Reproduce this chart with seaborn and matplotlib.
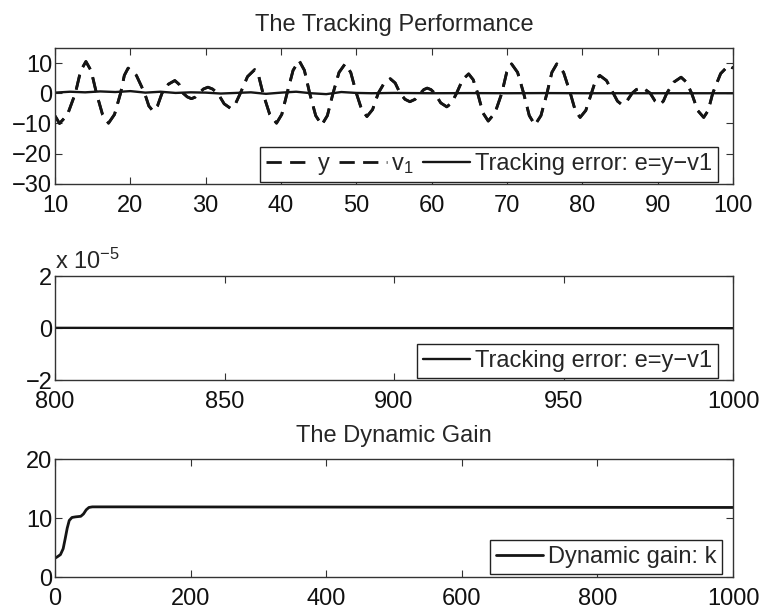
import matplotlib
matplotlib.use("Agg")
import matplotlib.pyplot as plt
import seaborn as sns
import numpy as np
import pandas as pd
from matplotlib.ticker import FuncFormatter

# ---------------- data ----------------
# top panel: output y (dashed), reference v1 (dashed) for t in [10, 100]
t_top = [10.0, 10.6, 11.65, 12.7, 13.4, 14.1, 14.8, 15.5, 16.3, 17.1, 17.9, 18.7,
         19.2, 19.7, 20.8, 21.9, 22.45, 23.0, 23.6, 24.2, 25.05, 25.9, 26.45, 27.0,
         27.55, 28.1, 28.6, 29.1, 29.7, 30.3, 30.9, 31.6, 32.45, 33.3, 33.95, 34.6,
         35.55, 36.5, 37.05, 37.6, 38.5, 39.4, 40.1, 40.8, 41.6, 42.4, 43.1, 43.8,
         44.6, 45.4, 46.15, 46.9, 47.7, 48.5, 49.25, 50.0, 50.7, 51.4, 52.15, 52.9,
         53.7, 54.5, 55.15, 55.8, 56.45, 57.1, 57.8, 58.5, 58.95, 59.4, 59.9, 60.4,
         61.2, 62.0, 62.65, 63.3, 64.1, 64.9, 65.5, 66.1, 66.8, 67.5, 68.4, 69.3,
         69.95, 70.6, 71.4, 72.2, 72.95, 73.7, 74.5, 75.3, 75.95, 76.6, 77.5, 78.4,
         79.05, 79.7, 80.45, 81.2, 81.75, 82.3, 83.2, 84.1, 84.65, 85.2, 85.9, 86.6,
         87.15, 87.7, 88.35, 89.0, 89.65, 90.3, 90.75, 91.2, 92.15, 93.1, 93.8, 94.5,
         95.3, 96.1, 96.7, 97.3, 98.35, 99.4, 100.0]
y_top = [-7.5, -10.0, -7.1, 0.0, 7.4, 10.5, 7.4, 0.0, -7.0, -9.9, -7.0, 0.0,
         5.9, 8.3, 5.9, 0.0, -4.2, -5.9, -4.2, 0.0, 3.0, 4.2, 3.0, 0.0,
         -1.2, -1.8, -1.3, 0.0, 1.4, 2.0, 1.4, 0.0, -3.5, -5.0, -3.5, 0.0,
         5.5, 7.8, 5.5, 0.0, -7.0, -9.9, -7.0, 0.0, 7.6, 10.8, 7.6, 0.0,
         -7.4, -10.5, -7.4, 0.0, 6.9, 9.7, 6.9, 0.0, -5.4, -7.7, -5.4, 0.0,
         3.4, 4.8, 3.4, 0.0, -2.0, -2.8, -2.0, 0.0, 1.2, 1.7, 1.2, 0.0,
         -3.2, -4.5, -3.2, 0.0, 4.5, 6.4, 4.5, 0.0, -6.5, -9.2, -6.5, 0.0,
         6.9, 9.7, 6.9, 0.0, -7.4, -10.5, -7.4, 0.0, 6.9, 9.7, 6.9, 0.0,
         -5.7, -8.0, -5.7, 0.0, 4.2, 5.9, 4.2, 0.0, -2.6, -3.7, -2.6, 0.0,
         1.2, 1.7, 1.2, 0.0, -2.6, -3.7, -2.6, 0.0, 3.7, 5.3, 3.7, 0.0,
         -5.7, -8.0, -5.7, 0.0, 6.5, 9.2, 8.3]

# tracking error e = y - v1 in the first window
t_err = [10, 12, 14, 16, 18, 20, 22, 24, 26, 28, 30, 32, 34, 36, 38, 40, 42, 44,
         46, 48, 50, 52, 55, 60, 65, 70, 75, 80, 85, 90, 95, 100]
e_err = [0.2, 0.5, 0.3, 0.6, 0.4, 0.7, 0.2, 0.5, 0.1, 0.3, 0.2, -0.1, 0.1, 0.3,
         -0.2, 0.2, 0.5, 0.0, -0.3, 0.4, 0.1, 0.0, 0.1, 0.0, 0.05, 0.0, 0.05,
         0.0, 0.0, 0.0, 0.0, 0.0]

# tracking error in the late window (of order 1e-7)
t_late = [800, 850, 900, 950, 1000]
e_late = [1e-7, 0.5e-7, 0.2e-7, 0.0, -0.3e-7]

# dynamic gain k
t_gain = [0, 3, 8, 12, 15, 18, 21, 25, 30, 38, 42, 46, 50, 55, 100, 500, 1000]
k_gain = [3.2, 3.4, 3.8, 4.8, 6.5, 8.3, 9.6, 10.1, 10.2, 10.3, 10.7, 11.4, 11.8,
          11.9, 11.9, 11.85, 11.8]

top_title = "The Tracking Performance"
bottom_title = "The Dynamic Gain"
lbl_y = "y"
lbl_v1 = r"v$_1$"
lbl_err = "Tracking error: e=y\u2212v1"
lbl_gain = "Dynamic gain: k"

# ---------------- styling ----------------
FS = 17
sns.set_theme(style="ticks")
plt.rcParams.update({
    "font.family": ["Liberation Sans", "DejaVu Sans"],
    "mathtext.fontset": "custom",
    "mathtext.rm": "Liberation Sans",
    "mathtext.it": "Liberation Sans",
    "font.size": FS,
    "xtick.direction": "in",
    "ytick.direction": "in",
    "xtick.top": True,
    "ytick.right": True,
    "xtick.major.size": 5,
    "ytick.major.size": 5,
    "xtick.major.width": 0.8,
    "ytick.major.width": 0.8,
    "axes.linewidth": 1.0,
    "axes.edgecolor": "#333333",
    "xtick.color": "#333333",
    "ytick.color": "#333333",
    "xtick.labelcolor": "#111111",
    "ytick.labelcolor": "#111111",
    "xtick.labelsize": FS,
    "ytick.labelsize": FS,
    "legend.fontsize": FS,
    "axes.unicode_minus": True,
})

fig = plt.figure(figsize=(7.61, 6.11), dpi=100)
ax1 = fig.add_axes([0.0723, 0.699, 0.891, 0.2226])
ax2 = fig.add_axes([0.0723, 0.378, 0.891, 0.170])
ax3 = fig.add_axes([0.0723, 0.0556, 0.891, 0.193])

ink = "#151515"
dash = (0, (5.5, 3.0))

df_top = pd.DataFrame({"t": t_top, "y": y_top})
df_err = pd.DataFrame({"t": t_err, "e": e_err})
df_v1 = pd.DataFrame({"t": t_top, "v1": y_top})

sns.lineplot(data=df_top, x="t", y="y", ax=ax1, color=ink, lw=2.0,
             linestyle=dash, label=lbl_y, sort=False)
sns.lineplot(data=df_v1, x="t", y="v1", ax=ax1, color=ink, lw=2.0,
             linestyle=dash, label=lbl_v1, sort=False)
sns.lineplot(data=df_err, x="t", y="e", ax=ax1, color=ink, lw=1.7,
             label=lbl_err, sort=False)
ax1.set_xlim(10, 100)
ax1.set_ylim(-30, 15)
ax1.set_xticks(range(10, 101, 10))
ax1.set_yticks([-30, -20, -10, 0, 10])
ax1.set_title(top_title, fontsize=FS, pad=12)
ax1.legend(loc="lower right", bbox_to_anchor=(0.978, 0.015), ncol=3,
           frameon=True, fancybox=False, edgecolor="#222222", framealpha=1,
           handlelength=2.0, handletextpad=0.2, columnspacing=0.4,
           borderpad=0.25, borderaxespad=0.0)

df_late = pd.DataFrame({"t": t_late, "e": e_late})
sns.lineplot(data=df_late, x="t", y="e", ax=ax2, color=ink, lw=1.7,
             label=lbl_err, sort=False)
ax2.set_xlim(800, 1000)
ax2.set_ylim(-2e-5, 2e-5)
ax2.set_xticks([800, 850, 900, 950, 1000])
ax2.set_yticks([-2e-5, 0, 2e-5])
ax2.yaxis.set_major_formatter(FuncFormatter(lambda v, p: f"{v * 1e5:g}".replace("-", "\u2212")))
ax2.text(0.0, 1.02, r"x 10$^{-5}$", transform=ax2.transAxes, fontsize=FS,
         ha="left", va="bottom")
ax2.legend(loc="lower right", bbox_to_anchor=(0.978, 0.02), frameon=True,
           fancybox=False, edgecolor="#222222", framealpha=1,
           handlelength=2.0, handletextpad=0.2, borderpad=0.25, borderaxespad=0.0)

df_gain = pd.DataFrame({"t": t_gain, "k": k_gain})
sns.lineplot(data=df_gain, x="t", y="k", ax=ax3, color=ink, lw=2.0,
             label=lbl_gain, sort=False)
ax3.set_xlim(0, 1000)
ax3.set_ylim(0, 20)
ax3.set_xticks(range(0, 1001, 200))
ax3.set_yticks([0, 10, 20])
ax3.set_title(bottom_title, fontsize=FS, pad=12)
ax3.legend(loc="lower right", bbox_to_anchor=(0.984, 0.025), frameon=True,
           fancybox=False, edgecolor="#222222", framealpha=1,
           handlelength=2.0, handletextpad=0.2, borderpad=0.25, borderaxespad=0.0)

for ax in (ax1, ax2, ax3):
    ax.set_xlabel("")
    ax.set_ylabel("")
    ax.tick_params(axis="x", pad=8)
    ax.tick_params(axis="y", pad=2)

fig.savefig("out.png", dpi=100)
